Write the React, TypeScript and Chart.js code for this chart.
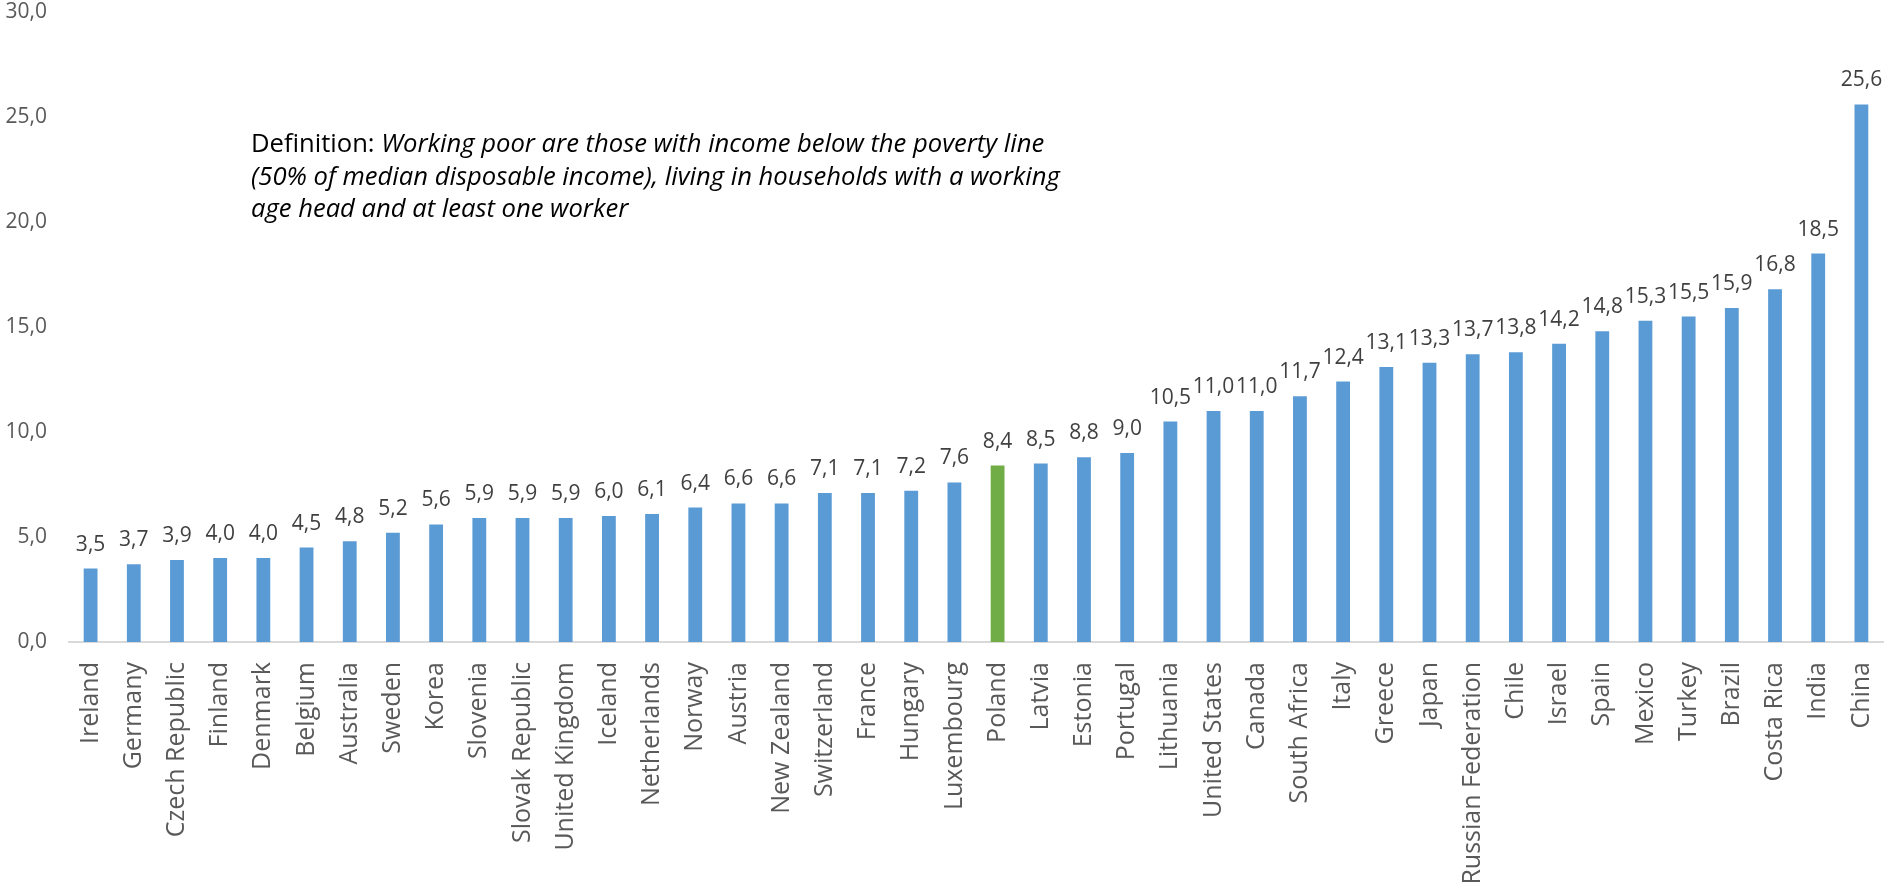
import React, { useEffect, useRef } from 'react';
import { Chart, registerables } from 'chart.js';

Chart.register(...registerables);

const countries: string[] = [
  'Ireland', 'Germany', 'Czech Republic', 'Finland', 'Denmark', 'Belgium', 'Australia',
  'Sweden', 'Korea', 'Slovenia', 'Slovak Republic', 'United Kingdom', 'Iceland', 'Netherlands',
  'Norway', 'Austria', 'New Zealand', 'Switzerland', 'France', 'Hungary', 'Luxembourg',
  'Poland', 'Latvia', 'Estonia', 'Portugal', 'Lithuania', 'United States', 'Canada',
  'South Africa', 'Italy', 'Greece', 'Japan', 'Russian Federation', 'Chile', 'Israel',
  'Spain', 'Mexico', 'Turkey', 'Brazil', 'Costa Rica', 'India', 'China',
];

const workingPoorShare: number[] = [
  3.5, 3.7, 3.9, 4.0, 4.0, 4.5, 4.8,
  5.2, 5.6, 5.9, 5.9, 5.9, 6.0, 6.1,
  6.4, 6.6, 6.6, 7.1, 7.1, 7.2, 7.6,
  8.4, 8.5, 8.8, 9.0, 10.5, 11.0, 11.0,
  11.7, 12.4, 13.1, 13.3, 13.7, 13.8, 14.2,
  14.8, 15.3, 15.5, 15.9, 16.8, 18.5, 25.6,
];

const highlightedCountry = 'Poland';
const yMin = 0;
const yMax = 30;
const yStep = 5;

const definitionLead = 'Definition: ';
const definitionLines: string[] = [
  'Working poor are those with income below the poverty line',
  '(50% of median disposable income), living in households with a working',
  'age head and at least one worker',
];

const BLUE = '#5B9BD5';
const GREEN = '#70AD47';
const FONT = '"Open Sans", "DejaVu Sans", sans-serif';

const fmt = (v: number) => v.toFixed(1).replace('.', ',');

const dataLabelPlugin = {
  id: 'dataLabels',
  afterDatasetsDraw(chart: any) {
    const ctx = chart.ctx;
    const meta = chart.getDatasetMeta(0);
    ctx.save();
    ctx.font = `21px ${FONT}`;
    ctx.fillStyle = '#404040';
    ctx.textAlign = 'center';
    ctx.textBaseline = 'alphabetic';
    meta.data.forEach((bar: any, i: number) => {
      const v = chart.data.datasets[0].data[i] as number;
      ctx.fillText(fmt(v), bar.x, bar.y - 18);
    });
    ctx.restore();
  },
};

const definitionPlugin = {
  id: 'definition',
  afterDraw(chart: any) {
    const ctx = chart.ctx;
    const area = chart.chartArea;
    const x0 = area.left + 182;
    const y0 = area.top + 140;
    const lh = 32.5;
    ctx.save();
    ctx.fillStyle = '#000000';
    ctx.textAlign = 'left';
    ctx.textBaseline = 'alphabetic';
    ctx.font = `25.6px ${FONT}`;
    ctx.fillText(definitionLead, x0, y0);
    const leadW = ctx.measureText(definitionLead).width;
    ctx.font = `italic 25.6px ${FONT}`;
    ctx.fillText(definitionLines[0], x0 + leadW, y0);
    for (let i = 1; i < definitionLines.length; i++) {
      ctx.fillText(definitionLines[i], x0, y0 + lh * i);
    }
    ctx.restore();
  },
};

export default function App() {
  const canvasRef = useRef<HTMLCanvasElement | null>(null);

  useEffect(() => {
    if (!canvasRef.current) return;
    const chart = new Chart(canvasRef.current, {
      type: 'bar',
      data: {
        labels: countries,
        datasets: [
          {
            data: workingPoorShare,
            backgroundColor: countries.map((c) => (c === highlightedCountry ? GREEN : BLUE)),
            categoryPercentage: 1,
            barPercentage: 0.32,
          },
        ],
      },
      options: {
        animation: false,
        responsive: true,
        maintainAspectRatio: false,
        layout: { padding: { top: 12, right: 8, left: 0, bottom: 0 } },
        plugins: {
          legend: { display: false },
          tooltip: { enabled: false },
          title: { display: false },
        },
        scales: {
          x: {
            grid: { display: false, drawTicks: false },
            border: { display: true, color: '#D9D9D9', width: 2 },
            ticks: {
              color: '#595959',
              font: { family: FONT, size: 25 },
              minRotation: 90,
              maxRotation: 90,
              autoSkip: false,
              padding: 20,
            },
            afterFit: (scale: any) => {
              scale.height = 244;
              scale.paddingLeft = 0;
              scale.paddingRight = 0;
              scale.paddingTop = 0;
              scale.paddingBottom = 0;
            },
          },
          y: {
            min: yMin,
            max: yMax,
            grid: { display: false, drawTicks: false },
            border: { display: false },
            ticks: {
              stepSize: yStep,
              color: '#595959',
              font: { family: FONT, size: 21 },
              padding: 22,
              callback: (v: any) => fmt(Number(v)),
            },
            afterFit: (scale: any) => {
              scale.width = 69;
              scale.paddingTop = 0;
              scale.paddingBottom = 0;
              scale.paddingLeft = 0;
              scale.paddingRight = 0;
            },
          },
        },
      },
      plugins: [dataLabelPlugin, definitionPlugin],
    });
    return () => chart.destroy();
  }, []);

  return (
    <div style={{ position: 'absolute', left: 0, top: 0, width: 1891, height: 886, background: '#fff' }}>
      <canvas ref={canvasRef} />
    </div>
  );
}
